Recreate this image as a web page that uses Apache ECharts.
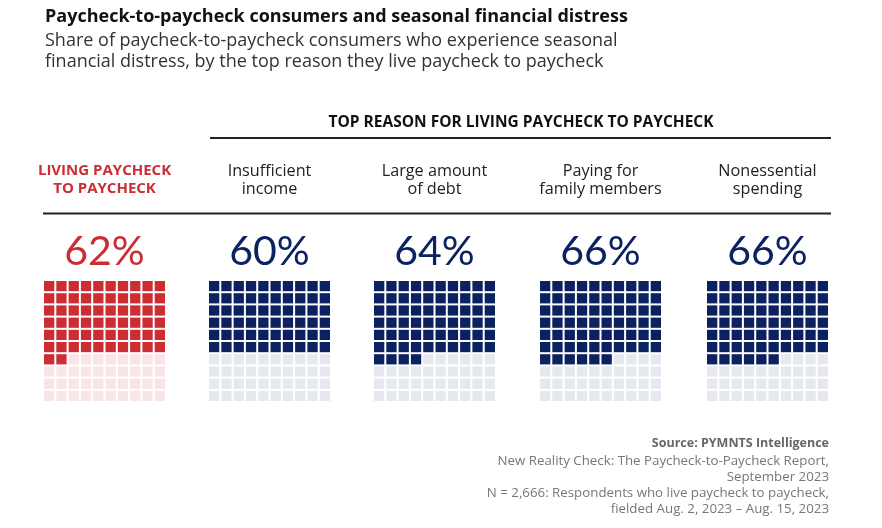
<!DOCTYPE html>
<html>
<head>
<meta charset="utf-8">
<script src="https://cdn.jsdelivr.net/npm/echarts@6/dist/echarts.min.js"></script>
<style>html,body{margin:0;padding:0;background:#fff}#chart{width:882px;height:528px}</style>
</head>
<body>
<div id="chart"></div>
<script>
const titleText = 'Paycheck-to-paycheck consumers and seasonal financial distress';
const subtitleText = 'Share of paycheck-to-paycheck consumers who experience seasonal\nfinancial distress, by the top reason they live paycheck to paycheck';
const headerText = 'TOP REASON FOR LIVING PAYCHECK TO PAYCHECK';
const categories = ['LIVING PAYCHECK\nTO PAYCHECK', 'Insufficient\nincome', 'Large amount\nof debt', 'Paying for\nfamily members', 'Nonessential\nspending'];
const values = [62, 60, 64, 66, 66];
const sourceTitle = 'Source: PYMNTS Intelligence';
const sourceLines = 'New Reality Check: The Paycheck-to-Paycheck Report,\nSeptember 2023\nN = 2,666: Respondents who live paycheck to paycheck,\nfielded Aug. 2, 2023 \u2013 Aug. 15, 2023';
const waffleIdx = ['0','1','2','3','4','5','6','7','8','9'];

const chart = echarts.init(document.getElementById('chart'));
const lefts = [43, 208, 373, 539, 706];
const gridW = 123, gridTop = 280, gridH = 122;
const fillCol = ['#cc2d33', '#0b2160', '#0b2160', '#0b2160', '#0b2160'];
const emptyCol = ['#f9e4e6', '#e5e8ef', '#e5e8ef', '#e5e8ef', '#e5e8ef'];
const F = '"Open Sans"';

const grids = [], xAxes = [], yAxes = [], series = [], graphics = [];
values.forEach((v, i) => {
  grids.push({left: lefts[i], top: gridTop, width: gridW, height: gridH});
  xAxes.push({type: 'category', gridIndex: i, data: waffleIdx, show: false});
  yAxes.push({type: 'category', gridIndex: i, data: waffleIdx, inverse: true, show: false});
  const data = [];
  for (let r = 0; r < 10; r++) for (let c = 0; c < 10; c++) {
    data.push([c, r, (r * 10 + c) < v ? 1 : 0]);
  }
  series.push({
    type: 'custom', xAxisIndex: i, yAxisIndex: i, silent: true,
    data: data,
    renderItem: function (params, api) {
      const p = api.coord([api.value(0), api.value(1)]);
      const s = api.size([1, 1]);
      const g = 2;
      return {
        type: 'rect',
        shape: {x: p[0] - s[0] / 2 + g / 2, y: p[1] - s[1] / 2 + g / 2, width: s[0] - g, height: s[1] - g},
        style: {fill: api.value(2) ? fillCol[i] : emptyCol[i]}
      };
    }
  });
  const cx = lefts[i] + gridW / 2;
  graphics.push({
    type: 'text', position: [cx, 162],
    style: {
      text: categories[i], x: 0, y: 0, textAlign: 'center',
      fill: i === 0 ? '#cc2d33' : '#222',
      font: i === 0 ? 'bold 15px ' + F : '16.2px ' + F,
      lineHeight: 18
    }
  });
  graphics.push({
    type: 'text', position: [cx, 231],
    style: {
      text: v + '%', x: 0, y: 0, textAlign: 'center',
      fill: i === 0 ? '#cc2d33' : '#0b2160',
      font: '41px Lato'
    }
  });
});

graphics.push({type: 'text', position: [521, 115], style: {text: headerText, x: 0, y: 0, textAlign: 'center', fill: '#111', font: 'bold 15.5px ' + F}});
graphics.push({type: 'line', shape: {x1: 210, y1: 138, x2: 831, y2: 138}, style: {stroke: '#222', lineWidth: 2}});
graphics.push({type: 'line', shape: {x1: 43, y1: 213.5, x2: 831, y2: 213.5}, style: {stroke: '#222', lineWidth: 2}});
graphics.push({type: 'text', position: [45, 30], style: {text: subtitleText, x: 0, y: 0, fill: '#333', font: '18px ' + F, lineHeight: 21}});
graphics.push({type: 'text', position: [829, 437], style: {text: sourceTitle, x: 0, y: 0, textAlign: 'right', fill: '#666', font: 'bold 12.5px ' + F}});
graphics.push({type: 'text', position: [829, 453], style: {text: sourceLines, x: 0, y: 0, textAlign: 'right', fill: '#777', font: '13.3px ' + F, lineHeight: 16}});

chart.setOption({
  animation: false,
  title: {text: titleText, left: 40, top: 3, textStyle: {fontFamily: 'Open Sans', fontWeight: 'bold', fontSize: 18, color: '#111'}},
  grid: grids, xAxis: xAxes, yAxis: yAxes, series: series,
  graphic: graphics
});
</script>
</body>
</html>
